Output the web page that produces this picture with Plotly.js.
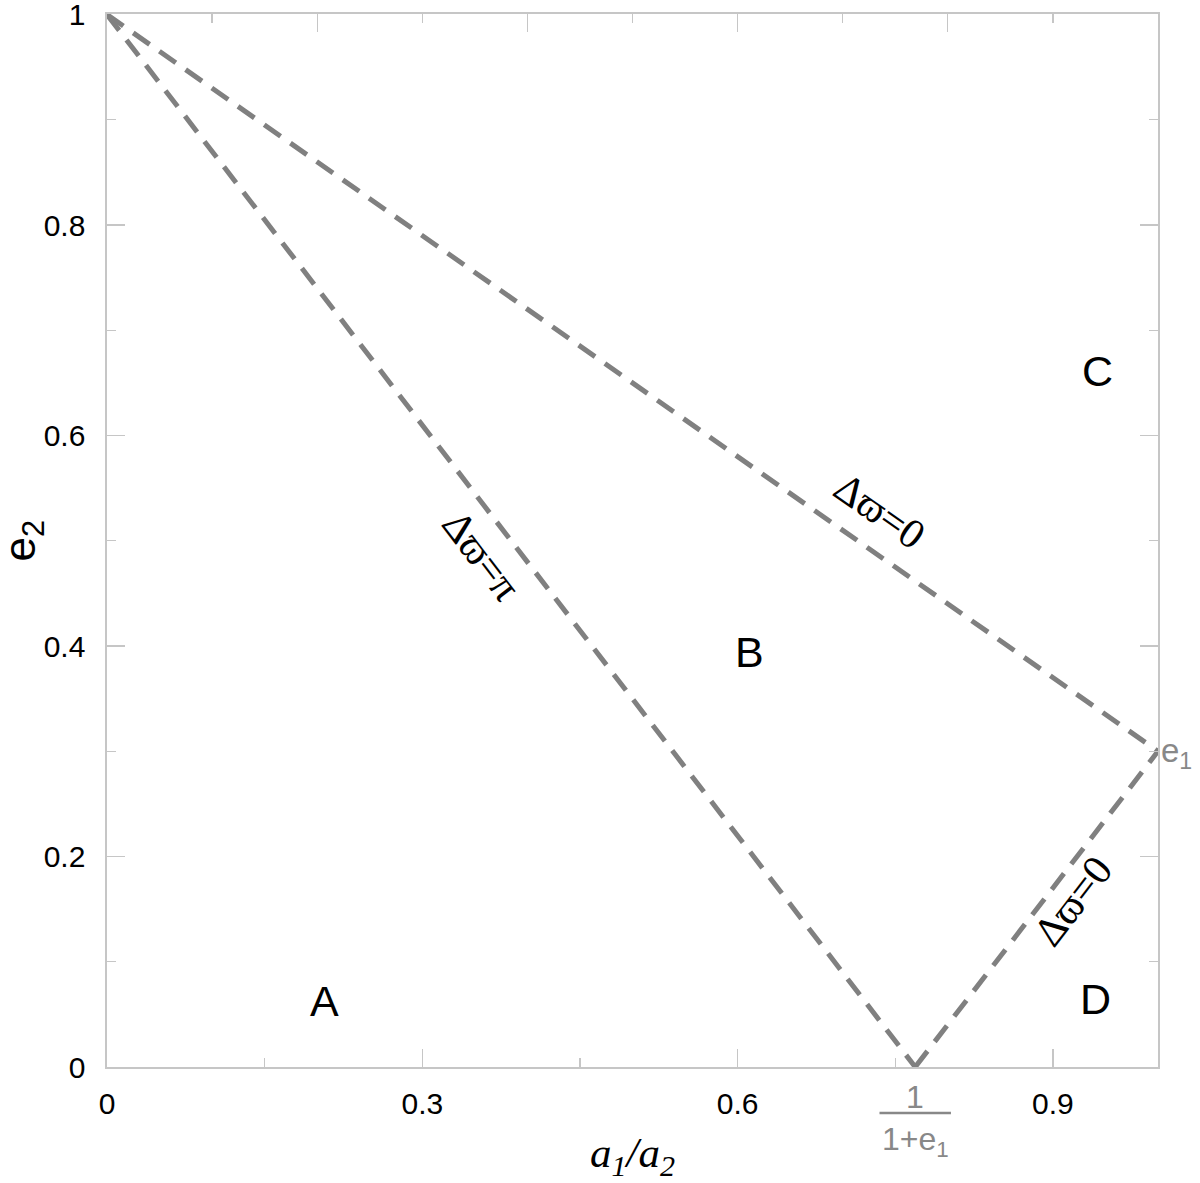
<!DOCTYPE html>
<html>
<head>
<meta charset="utf-8">
<script src="https://cdn.plot.ly/plotly-3.0.1.min.js"></script>
<style>html,body{margin:0;padding:0;background:#fff;}#chart{width:1200px;height:1183px;}</style>
</head>
<body>
<div id="chart"></div>
<script>
// ---- data ----
const e1 = 0.3;
const vertexX = 0.769;            // 1/(1+e1)
const upperZeroX = [0, 1];
const upperZeroY = [1, 0.3];
const piLineX = [0, 0.769];
const piLineY = [1, 0];
const lowerZeroX = [0.769, 1];
const lowerZeroY = [0, 0.3];
const xTickVals = [0, 0.3, 0.6, 0.9];
const xTickText = ['0', '0.3', '0.6', '0.9'];
const yTickVals = [0, 0.2, 0.4, 0.6, 0.8, 1];
const yTickText = ['0', '0.2', '0.4', '0.6', '0.8', '1'];
const regionNames = ['A', 'B', 'C', 'D'];
const regionX = [0.207, 0.611, 0.942, 0.941];
const regionY = [0.063, 0.394, 0.661, 0.065];
const curveLabels = ['Δϖ=π', 'Δϖ=0', 'Δϖ=0'];
const curveLabelX = [0.357, 0.735, 0.919];
const curveLabelY = [0.486, 0.528, 0.158];
const curveLabelAngle = [52.5, 35, -52.4];

const lineStyle = {color: '#808080', width: 5, dash: '20px,12px'};
const axisColor = '#c6c6c6';
const sans = 'Liberation Sans, Arial, sans-serif';
const serif = 'Liberation Serif, Times New Roman, DejaVu Serif, serif';

const traces = [
  {x: upperZeroX, y: upperZeroY, mode: 'lines', line: lineStyle, hoverinfo: 'skip', showlegend: false},
  {x: piLineX, y: piLineY, mode: 'lines', line: lineStyle, hoverinfo: 'skip', showlegend: false},
  {x: lowerZeroX, y: lowerZeroY, mode: 'lines', line: lineStyle, hoverinfo: 'skip', showlegend: false},
  {x: [0.5], y: [0.5], xaxis: 'x2', mode: 'markers', marker: {opacity: 0}, hoverinfo: 'skip', showlegend: false}
];

const annotations = [];
regionNames.forEach((t, i) => annotations.push({
  x: regionX[i], y: regionY[i], xref: 'x', yref: 'y', text: t, showarrow: false,
  font: {family: sans, size: 43, color: '#000'}
}));
curveLabels.forEach((t, i) => annotations.push({
  x: curveLabelX[i], y: curveLabelY[i], xref: 'x', yref: 'y', text: t, showarrow: false,
  textangle: curveLabelAngle[i], font: {family: serif, size: 42, color: '#000'}
}));
annotations.push({
  x: 1, y: e1, xref: 'paper', yref: 'y', text: 'e<sub>1</sub>', showarrow: false,
  xanchor: 'left', xshift: 1, yshift: -2, font: {family: sans, size: 33, color: '#888'}
});
annotations.push({
  x: vertexX, y: 0, xref: 'x', yref: 'y', text: '1', showarrow: false,
  yanchor: 'middle', yshift: -30, font: {family: sans, size: 32, color: '#888'}
});
annotations.push({
  x: vertexX, y: 0, xref: 'x', yref: 'y', text: '1+e<sub>1</sub>', showarrow: false,
  yanchor: 'middle', yshift: -74, font: {family: sans, size: 32, color: '#888'}
});
// y-axis title placed precisely
annotations.push({
  x: 0, y: 0.5, xref: 'paper', yref: 'paper', text: 'e<sub>2</sub>', showarrow: false,
  textangle: -90, xanchor: 'center', yanchor: 'middle', xshift: -85,
  font: {family: sans, size: 44, color: '#000'}
});

const layout = {
  width: 1200, height: 1183,
  margin: {l: 107, r: 42, t: 14, b: 116},
  paper_bgcolor: '#fff', plot_bgcolor: '#fff',
  showlegend: false,
  xaxis: {
    range: [0, 1], tickvals: xTickVals, ticktext: xTickText,
    ticks: 'inside', ticklen: 18, tickwidth: 1.3, tickcolor: axisColor,
    minor: {dtick: 0.15, tick0: 0, ticks: 'inside', ticklen: 9, tickwidth: 1.3, tickcolor: axisColor},
    showline: true, linecolor: axisColor, linewidth: 1.6, mirror: false,
    showgrid: false, zeroline: false,
    tickfont: {family: sans, size: 30, color: '#000'}, ticklabelstandoff: 9,
    title: {text: '<i>a<sub>1</sub>/a<sub>2</sub></i>', font: {family: serif, size: 43, color: '#000'}, standoff: 23}
  },
  xaxis2: {
    overlaying: 'x', side: 'top', anchor: 'y', range: [0, 1], dtick: 0.2, tick0: 0,
    ticks: 'inside', ticklen: 18, tickwidth: 1.3, tickcolor: axisColor,
    minor: {dtick: 0.1, tick0: 0, ticks: 'inside', ticklen: 9, tickwidth: 1.3, tickcolor: axisColor},
    showline: true, linecolor: axisColor, linewidth: 1.6,
    showticklabels: false, showgrid: false, zeroline: false
  },
  yaxis: {
    range: [0, 1.0005], tickvals: yTickVals, ticktext: yTickText,
    ticks: 'inside', ticklen: 18, tickwidth: 1.3, tickcolor: axisColor,
    minor: {dtick: 0.1, tick0: 0, ticks: 'inside', ticklen: 9, tickwidth: 1.3, tickcolor: axisColor},
    showline: true, linecolor: axisColor, linewidth: 1.6, mirror: 'ticks',
    showgrid: false, zeroline: false, ticklabeloverflow: 'allow',
    tickfont: {family: sans, size: 30, color: '#000'}, ticklabelstandoff: 14
  },
  shapes: [{
    type: 'line', xref: 'paper', yref: 'paper',
    x0: vertexX - 0.034, x1: vertexX + 0.034, y0: -0.0437, y1: -0.0437,
    line: {color: '#888', width: 2.5}
  }],
  annotations: annotations
};

Plotly.newPlot('chart', traces, layout, {staticPlot: true});
</script>
</body>
</html>
